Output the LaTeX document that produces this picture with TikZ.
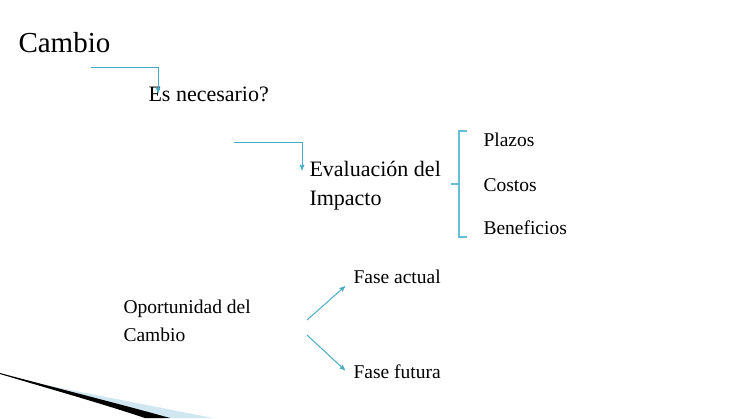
\documentclass[tikz,border=0pt]{standalone}
\usepackage{fontspec}
\setmainfont{Liberation Serif}
\usetikzlibrary{positioning}
\usetikzlibrary{arrows}

\begin{document}
\begin{tikzpicture}[x=1pt,y=-1pt,->,>=stealth',line width=1pt,
	big text/.style={inner sep=0pt,anchor=base west,font=\fontsize{29}{35}\selectfont},
	mid text/.style={inner sep=0pt,anchor=base west,align=left,font=\fontsize{22}{29}\selectfont},
	item/.style={inner sep=0pt,anchor=base west,align=left,font=\fontsize{19.5}{28}\selectfont}]
	
	\definecolor{aqua}{RGB}{75,172,198}
	\definecolor{paleaqua}{RGB}{105,190,214}
	\definecolor{swoosh}{RGB}{208,230,240}
	
	\useasboundingbox (0,0) rectangle (733,418);
	
	\node[big text] (cambio) at (18,52) {Cambio};
	\node[mid text] (necesario) at (148,101) {Es necesario?};
	\node[mid text] (impacto) at (309,205) {Evaluación del\\Impacto};
	\node[item] (plazos) at (483,146) {Plazos};
	\node[item, below=45pt of plazos.base west, anchor=base west] (costos) {Costos};
	\node[item, below=43pt of costos.base west, anchor=base west] (beneficios) {Beneficios};
	\node[item] (oportunidad) at (123,341) {Oportunidad del\\Cambio};
	\node[item] (actual) at (353,283) {Fase actual};
	\node[item, below=95pt of actual.base west, anchor=base west] (futura) {Fase futura};
	
	% free ends of the connectors
	\coordinate (c1) at (91,67);
	\coordinate (c2) at (234,142);
	\coordinate (o1) at (307,320);
	\coordinate (o2) at (307,335);
	
	\draw[aqua] (c1) -| ([xshift=10pt,yshift=-7pt]necesario.north west);
	\draw[aqua] (c2) -| ([xshift=-7pt,yshift=-10pt]impacto.north west);
	\draw[aqua] (o1) -- ([shift={(-8pt,-10pt)}]actual.west);
	\draw[aqua] (o2) -- ([shift={(-8pt,1pt)}]futura.west);
	
	% bracket
	\coordinate (btop) at (467,131);
	\coordinate (bbot) at (467,237);
	\coordinate (bmid) at (451,184);
	\draw[-,paleaqua,line width=1.5pt] (btop) -- (459,131) -- (459,237) -- (bbot);
	\draw[-,paleaqua,line width=1.5pt] (bmid) -- (459,184);
	
	% swoosh
	\fill[-,swoosh] (45,385) -- (213,418) -- (168,418) -- cycle;
	\fill[-,black] (0,373) .. controls (60,389) and (120,404) .. (170,418) -- (145,418) .. controls (100,403) and (50,389) .. (0,374) -- cycle;
\end{tikzpicture}
\end{document}
